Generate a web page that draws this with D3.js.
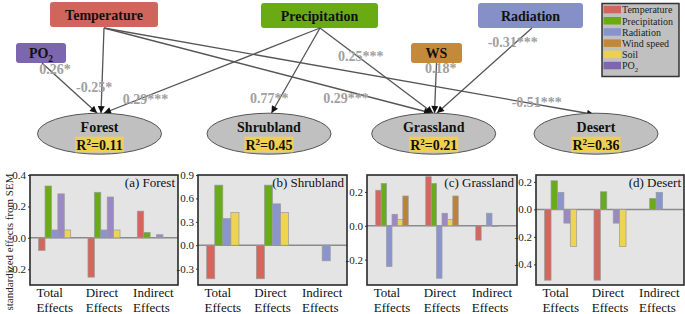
<!DOCTYPE html>
<html><head><meta charset="utf-8">
<script src="https://cdn.jsdelivr.net/npm/d3@7"></script>
<style>
body{margin:0;background:#fff}
svg{display:block;font-family:"Liberation Serif","Times New Roman",serif}
</style>
</head><body>
<svg id="chart" width="685" height="314"></svg>
<script>
// ---------------- DATA ----------------
const categories = ["Total Effects", "Direct Effects", "Indirect Effects"];

const forestSeries = ["Temperature", "Precipitation", "Radiation", "PO2", "Soil"];
const forestTotal = [-0.08, 0.33, 0.05, 0.28, 0.05];
const forestDirect = [-0.25, 0.29, 0.05, 0.26, 0.05];
const forestIndirect = [0.17, 0.035, 0, 0.02, 0];
const forestTicks = [-0.2, 0.0, 0.2, 0.4];

const shrubSeries = ["Temperature", "Precipitation", "Radiation", "Soil"];
const shrubTotal = [-0.43, 0.77, 0.34, 0.42];
const shrubDirect = [-0.43, 0.77, 0.53, 0.42];
const shrubIndirect = [0, 0, -0.20, 0];
const shrubTicks = [-0.3, 0.0, 0.3, 0.6, 0.9];

const grassSeries = ["Temperature", "Precipitation", "Radiation", "PO2", "Soil", "Wind speed"];
const grassTotal = [0.21, 0.25, -0.24, 0.068, 0.038, 0.176];
const grassDirect = [0.29, 0.25, -0.31, 0.074, 0.038, 0.176];
const grassIndirect = [-0.085, 0, 0.074, -0.005, 0, 0];
const grassTicks = [-0.2, 0.0, 0.2];

const desertSeries = ["Temperature", "Precipitation", "Radiation", "PO2", "Soil"];
const desertTotal = [-0.515, 0.208, 0.124, -0.10, -0.27];
const desertDirect = [-0.515, 0.128, 0, -0.10, -0.27];
const desertIndirect = [0, 0.08, 0.124, 0, 0];
const desertTicks = [-0.4, -0.2, 0.0, 0.2];

const legendItems = ["Temperature", "Precipitation", "Radiation", "Wind speed", "Soil", "PO2"];

// SEM diagram content
const responses = ["Forest", "Shrubland", "Grassland", "Desert"];
const responseR2 = ["0.11", "0.45", "0.21", "0.36"];
const drivers = ["Temperature", "Precipitation", "Radiation", "PO2", "WS"];
const pathFrom = ["PO2", "Temperature", "Precipitation", "Precipitation", "Temperature", "Precipitation", "WS", "Radiation", "Temperature"];
const pathTo = ["Forest", "Forest", "Forest", "Shrubland", "Grassland", "Grassland", "Grassland", "Grassland", "Desert"];
const pathLabels = ["0.26*", "-0.25*", "0.29***", "0.77**", "0.29***", "0.25***", "0.18*", "-0.31***", "-0.51***"];

// ---------------- STYLE / LAYOUT ----------------
const barColor = {
  "Temperature": "#d4665d", "Precipitation": "#6aab1c", "Radiation": "#8a95cc",
  "PO2": "#9b89c6", "Soil": "#eed453", "Wind speed": "#b8843a"
};
const legendColor = {
  "Temperature": "#d3655c", "Precipitation": "#6aab14", "Radiation": "#8893cb",
  "Wind speed": "#c08838", "Soil": "#ecd04e", "PO2": "#7f67b0"
};
const driverBox = {
  "Temperature":   {x: 50,  y: 2,  w: 108, h: 25, fill: "#cf655b"},
  "Precipitation": {x: 261, y: 3,  w: 117, h: 25, fill: "#6aab14"},
  "Radiation":     {x: 478, y: 3,  w: 105, h: 25, fill: "#8590c8"},
  "PO2":           {x: 16,  y: 43, w: 50,  h: 20, fill: "#7c66b0"},
  "WS":            {x: 411, y: 43, w: 51,  h: 20, fill: "#c48a3a"}
};
const ellipseCx = {"Forest": 99.5, "Shrubland": 269, "Grassland": 433.7, "Desert": 596};
const ellipseCy = 133.7, ellipseRx = 62, ellipseRy = 20.5;
// path geometry: start anchor on driver, end on response, label position
const pathStart = [[42, 63], [104, 28], [320, 28], [320, 28], [104, 28], [320, 28], [436.5, 63], [532, 28], [104, 28]];
const pathEnd = [[97, 113], [101, 113], [104, 113], [271.5, 113], [431, 113], [433, 113], [434.5, 113], [437, 113], [594, 114.5]];
const labelPos = [[39.3, 74], [76, 91.7], [122.7, 104], [250, 102.7], [323.3, 103], [338, 60.5], [425, 72.7], [487.7, 46.7], [511.7, 107.3]];

const svg = d3.select("#chart");

// ---------------- SEM DIAGRAM ----------------
const defs = svg.append("defs");
defs.append("marker").attr("id", "arrow")
  .attr("viewBox", "0 0 10 10").attr("refX", 10).attr("refY", 5)
  .attr("markerUnits", "userSpaceOnUse").attr("markerWidth", 9).attr("markerHeight", 7)
  .attr("orient", "auto")
  .append("path").attr("d", "M0,0 L10,5 L0,10 z").attr("fill", "#111");

function addPO2(textSel, mainSize) {
  textSel.append("tspan").text("PO");
  textSel.append("tspan").text("2").attr("font-size", mainSize * 0.68).attr("dy", mainSize * 0.25);
}

// driver boxes
drivers.forEach(d => {
  const b = driverBox[d];
  svg.append("rect").attr("x", b.x).attr("y", b.y).attr("width", b.w).attr("height", b.h)
    .attr("rx", 3).attr("fill", b.fill);
  const t = svg.append("text").attr("x", b.x + b.w / 2).attr("y", b.y + b.h / 2 + 5)
    .attr("text-anchor", "middle").attr("font-weight", "bold").attr("font-size", 14).attr("fill", "#111");
  if (d === "PO2") addPO2(t, 14); else t.text(d);
});

// paths
const line = d3.line();
pathFrom.forEach((f, i) => {
  svg.append("path").attr("d", line([pathStart[i], pathEnd[i]]))
    .attr("stroke", "#555").attr("stroke-width", 1.3).attr("fill", "none")
    .attr("marker-end", "url(#arrow)");
});

// ellipses
responses.forEach((r, i) => {
  const cx = ellipseCx[r];
  svg.append("ellipse").attr("cx", cx).attr("cy", ellipseCy).attr("rx", ellipseRx).attr("ry", ellipseRy)
    .attr("fill", "#c0c0c0").attr("stroke", "#555").attr("stroke-width", 1);
  svg.append("text").attr("x", cx).attr("y", 132).attr("text-anchor", "middle")
    .attr("font-weight", "bold").attr("font-size", 14).attr("fill", "#111").text(r);
  const g = svg.append("g");
  const hl = g.append("rect").attr("fill", "#f0d050");
  const t = g.append("text").attr("x", cx).attr("y", 149.5).attr("text-anchor", "middle")
    .attr("font-weight", "bold").attr("font-size", 14).attr("fill", "#111");
  t.append("tspan").text("R");
  t.append("tspan").text("2").attr("font-size", 9).attr("dy", -5);
  t.append("tspan").text("=" + responseR2[i]).attr("dy", 5);
  const bb = t.node().getBBox();
  hl.attr("x", bb.x - 1).attr("y", 136.7).attr("width", bb.width + 2).attr("height", 15.6);
});

// path labels
pathLabels.forEach((l, i) => {
  svg.append("text").attr("x", labelPos[i][0]).attr("y", labelPos[i][1])
    .attr("font-weight", "bold").attr("font-size", 14).attr("fill", "#a0a0a0").text(l);
});

// legend
const lg = svg.append("g");
lg.append("rect").attr("x", 602).attr("y", 3.5).attr("width", 77).attr("height", 73)
  .attr("fill", "#c0c0c0").attr("stroke", "#333").attr("stroke-width", 1.5);
legendItems.forEach((d, i) => {
  const y = 13.3 + i * 11.2;
  lg.append("rect").attr("x", 603.5).attr("y", y - 7.5).attr("width", 17.5).attr("height", 7.5)
    .attr("fill", legendColor[d]);
  const t = lg.append("text").attr("x", 622).attr("y", y).attr("font-size", 10).attr("fill", "#222");
  if (d === "PO2") addPO2(t, 10); else t.text(d);
});

// ---------------- BAR PANELS ----------------
const panels = [
  {title: "(a) Forest", series: forestSeries, values: [forestTotal, forestDirect, forestIndirect], domain: [-0.3, 0.4], ticks: forestTicks, left: 30, right: 178},
  {title: "(b) Shrubland", series: shrubSeries, values: [shrubTotal, shrubDirect, shrubIndirect], domain: [-0.51, 0.9], ticks: shrubTicks, left: 198, right: 347},
  {title: "(c) Grassland", series: grassSeries, values: [grassTotal, grassDirect, grassIndirect], domain: [-0.35, 0.3], ticks: grassTicks, left: 367, right: 517},
  {title: "(d) Desert", series: desertSeries, values: [desertTotal, desertDirect, desertIndirect], domain: [-0.55, 0.25], ticks: desertTicks, left: 536, right: 684}
];
const pTop = 175, pBottom = 285;
const fmt = v => d3.format(".1f")(v).replace("\u2212", "-");

panels.forEach(p => {
  const g = svg.append("g");
  const x0 = d3.scaleBand().domain(categories).range([p.left, p.right]);
  const bw = x0.bandwidth();
  const x1 = d3.scaleBand().domain(p.series).range([0, bw * 0.65]);
  const y = d3.scaleLinear().domain(p.domain).range([pBottom, pTop]);

  g.append("rect").attr("x", p.left).attr("y", pTop).attr("width", p.right - p.left).attr("height", pBottom - pTop)
    .attr("fill", "#e4e4e4");

  // zero line
  g.append("line").attr("x1", p.left).attr("x2", p.right).attr("y1", y(0)).attr("y2", y(0))
    .attr("stroke", "#8a8a8a").attr("stroke-width", 1.5);

  // bars
  categories.forEach((c, ci) => {
    p.series.forEach((s, si) => {
      const v = p.values[ci][si];
      if (v === 0) return;
      g.append("rect")
        .attr("x", x0(c) + bw * 0.175 + x1(s))
        .attr("y", v >= 0 ? y(v) : y(0))
        .attr("width", x1.bandwidth())
        .attr("height", Math.abs(y(v) - y(0)))
        .attr("fill", barColor[s]).attr("stroke", "#9a9a9a").attr("stroke-width", 0.7);
    });
  });

  // frame
  g.append("rect").attr("x", p.left).attr("y", pTop).attr("width", p.right - p.left).attr("height", pBottom - pTop)
    .attr("fill", "none").attr("stroke", "#2a2a2a").attr("stroke-width", 1.6);

  // y axis
  const ax = g.append("g").attr("transform", `translate(${p.left},0)`)
    .call(d3.axisLeft(y).tickValues(p.ticks).tickFormat(fmt).tickSize(2).tickPadding(2));
  ax.select(".domain").remove();
  ax.selectAll("text").attr("font-size", 11).attr("font-family", "Liberation Serif, serif").attr("fill", "#222");
  ax.selectAll("line").attr("stroke", "#333");

  // title
  g.append("text").attr("x", p.right - 3).attr("y", 187).attr("text-anchor", "end")
    .attr("font-size", 13).attr("fill", "#111").text(p.title);

  // category labels (two lines, left-aligned, block centered)
  categories.forEach(c => {
    const parts = c.split(" ");
    const t = g.append("text").attr("font-size", 13).attr("fill", "#111");
    const spans = parts.map((w, i) => t.append("tspan").attr("y", i === 0 ? 297 : 311.5).text(w));
    const maxW = d3.max(spans, s => s.node().getComputedTextLength());
    const cx = x0(c) + bw / 2;
    spans.forEach(s => s.attr("x", cx - maxW / 2));
  });
});

// y-axis title
svg.append("text").attr("transform", "translate(12.5,242) rotate(-90)").attr("text-anchor", "middle")
  .attr("font-size", 11).attr("fill", "#222").text("standardized effects from SEM");
</script>
</body></html>
